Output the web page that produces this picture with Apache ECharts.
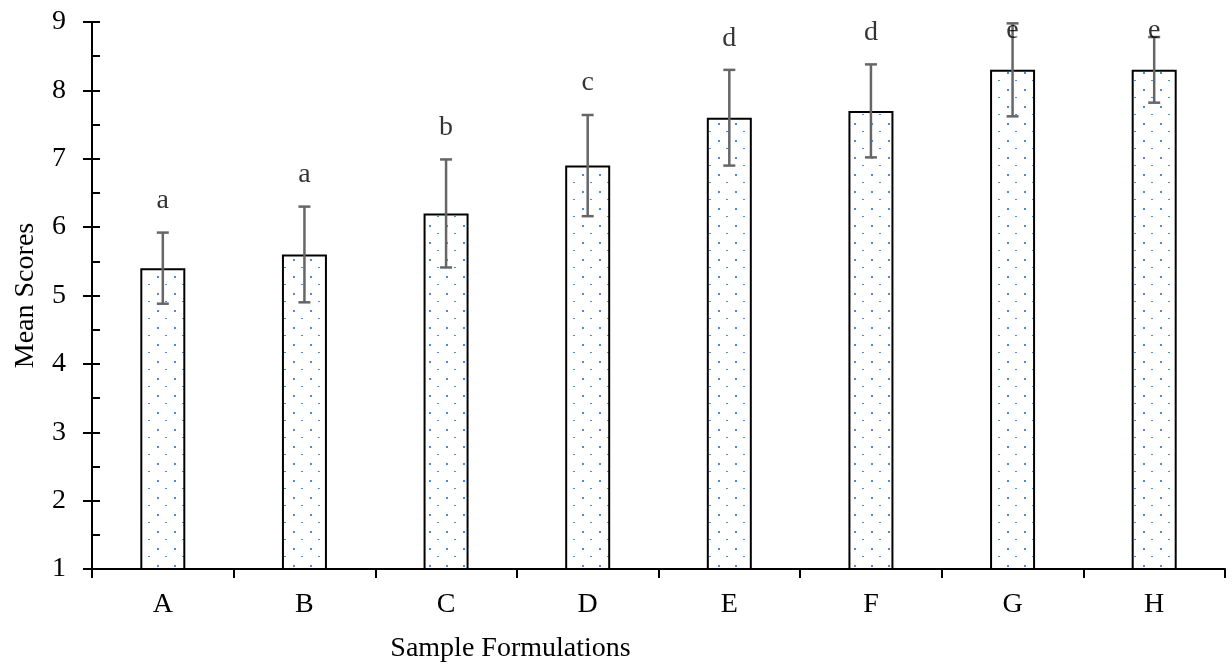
<!DOCTYPE html>
<html>
<head>
<meta charset="utf-8">
<script src="https://cdn.jsdelivr.net/npm/echarts@6/dist/echarts.min.js"></script>
<style>
  html, body { margin: 0; background: #fff; }
  #main { width: 1232px; height: 668px; }
</style>
</head>
<body>
<div id="main"></div>
<script>
// data
const categories = ['A', 'B', 'C', 'D', 'E', 'F', 'G', 'H'];
const means = [5.4, 5.6, 6.2, 6.9, 7.6, 7.7, 8.3, 8.3];
const errors = [0.52, 0.7, 0.79, 0.74, 0.7, 0.68, 0.68, 0.48];
const letters = ['a', 'a', 'b', 'c', 'd', 'd', 'e', 'e'];
const letterY = [6.39, 6.77, 7.46, 8.12, 8.76, 8.85, 8.88, 8.88];
const yTicks = [1, 2, 3, 4, 5, 6, 7, 8, 9];

const font = 'Liberation Serif';
const fontSize = 28;

// dotted fill like the excel pattern
function dotPattern () {
  let c = document.createElement('canvas');
  c.width = 17;
  c.height = 17;
  let g = c.getContext('2d');
  g.fillStyle = '#ffffff';
  g.fillRect(0, 0, 17, 17);
  g.fillStyle = '#4a8fd6';
  g.fillRect(4, 4, 2, 2);
  g.fillRect(12, 12, 2, 1);
  return c;
}

let myChart = echarts.init(document.getElementById('main'));

let errData = categories.map((c, i) => [i, means[i] - errors[i], means[i] + errors[i]]);
let letterData = categories.map((c, i) => [i, letterY[i]]);

myChart.setOption({
  animation: false,
  grid: { left: 92, right: 7, top: 22, bottom: 99, containLabel: false },
  xAxis: {
    type: 'category',
    data: categories,
    name: 'Sample Formulations',
    nameLocation: 'middle',
    nameGap: 66,
    // title sits left of the axis centre in the original
    nameTextStyle: { fontFamily: font, fontSize: fontSize, color: '#000', padding: [0, 296, 0, 0] },
    axisLine: { lineStyle: { color: '#000', width: 2 } },
    axisTick: { show: true, length: 9, lineStyle: { color: '#000', width: 2 } },
    axisLabel: { fontFamily: font, fontSize: fontSize, color: '#000', margin: 22 },
    splitLine: { show: false }
  },
  yAxis: [
    {
      type: 'value',
      min: yTicks[0],
      max: yTicks[yTicks.length - 1],
      interval: 1,
      name: 'Mean Scores',
      nameLocation: 'middle',
      nameGap: 52,
      nameTextStyle: { fontFamily: font, fontSize: fontSize, color: '#000' },
      axisLine: { show: true, lineStyle: { color: '#000', width: 2 } },
      axisTick: { show: true, length: 9, lineStyle: { color: '#000', width: 2 } },
      axisLabel: { fontFamily: font, fontSize: fontSize, color: '#000', margin: 26 },
      splitLine: { show: false }
    },
    {
      type: 'value',
      position: 'left',
      min: yTicks[0],
      max: yTicks[yTicks.length - 1],
      interval: 1,
      axisLine: { show: false },
      axisTick: { show: true, inside: true, length: 8, lineStyle: { color: '#000', width: 2 } },
      minorTick: { show: true, splitNumber: 2, length: 8, lineStyle: { color: '#000', width: 2 } },
      axisLabel: { show: false },
      splitLine: { show: false }
    }
  ],
  series: [
    {
      type: 'bar',
      data: means,
      barWidth: 45,
      itemStyle: {
        color: { image: dotPattern(), repeat: 'repeat' },
        borderColor: '#000',
        borderWidth: 2
      }
    },
    {
      type: 'custom',
      data: errData,
      encode: { x: 0, y: [1, 2] },
      z: 5,
      renderItem: function (params, api) {
        let i = api.value(0);
        let lo = api.coord([i, api.value(1)]);
        let hi = api.coord([i, api.value(2)]);
        let hw = 6;
        let st = { stroke: '#666666', lineWidth: 2.5 };
        return {
          type: 'group',
          children: [
            { type: 'line', shape: { x1: lo[0], y1: lo[1], x2: hi[0], y2: hi[1] }, style: st },
            { type: 'line', shape: { x1: lo[0] - hw, y1: lo[1], x2: lo[0] + hw, y2: lo[1] }, style: st },
            { type: 'line', shape: { x1: hi[0] - hw, y1: hi[1], x2: hi[0] + hw, y2: hi[1] }, style: st }
          ]
        };
      }
    },
    {
      type: 'scatter',
      data: letterData,
      symbolSize: 0,
      z: 6,
      label: {
        show: true,
        position: 'inside',
        formatter: p => letters[p.dataIndex],
        fontFamily: font,
        fontSize: fontSize,
        color: '#000'
      }
    }
  ]
});
</script>
</body>
</html>
